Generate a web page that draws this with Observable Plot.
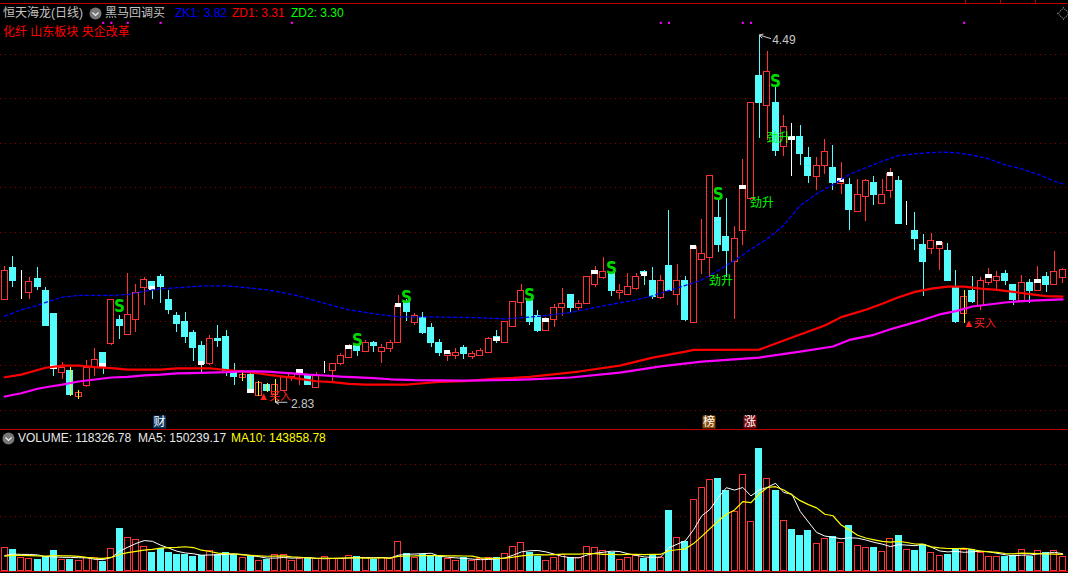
<!DOCTYPE html>
<html><head><meta charset="utf-8">
<script src="https://cdn.jsdelivr.net/npm/d3@7"></script>
<script src="https://cdn.jsdelivr.net/npm/@observablehq/plot@0.6"></script>
<style>
html,body{margin:0;padding:0;background:#000;overflow:hidden}
#wrap{position:relative;width:1068px;height:573px;background:#000;font:12px "Liberation Sans","Noto Sans CJK SC",sans-serif}
#wrap svg{display:block}
.abs{position:absolute;white-space:pre;line-height:14px}
.line{position:absolute;left:0;width:1068px;height:1px;background:#c00000}
</style></head><body><div id="wrap"></div>
<script>
const opens=[3.291,3.439,3.373,3.323,3.385,3.335,3.227,2.961,2.973,2.853,
2.903,2.986,3.055,3.093,3.204,3.133,3.201,3.346,3.374,3.397,
3.294,3.218,3.195,3.145,3.086,3.001,3.114,3.127,2.964,2.942,
2.955,2.860,2.906,2.865,2.883,2.946,2.955,2.955,2.894,2.963,
2.970,3.001,3.032,3.086,3.059,3.096,3.059,3.073,3.100,3.281,
3.190,3.213,3.168,3.096,3.041,3.041,3.077,3.034,3.041,3.052,
3.127,3.100,3.172,3.281,3.287,3.218,3.150,3.200,3.255,3.317,
3.255,3.272,3.362,3.394,3.412,3.322,3.313,3.344,3.417,3.376,
3.303,3.448,3.313,3.376,3.190,3.471,3.484,3.661,3.579,3.462,
3.602,3.747,4.303,4.167,4.181,3.986,4.022,4.031,3.932,3.846,
3.896,3.891,3.816,3.810,3.692,3.756,3.819,3.724,3.783,3.828,
3.646,3.606,3.539,3.525,3.525,3.516,3.353,3.231,3.335,3.267,
3.371,3.380,3.408,3.358,3.290,3.367,3.331,3.398,3.362,3.394];
const closes=[3.424,3.376,3.373,3.374,3.349,3.177,2.986,2.986,2.865,2.873,
2.986,3.022,2.995,3.293,3.177,3.225,3.325,3.383,3.344,3.349,
3.245,3.186,3.127,3.077,3.004,3.114,3.105,2.973,2.946,2.954,
2.880,2.915,2.883,2.906,2.946,2.958,2.969,2.906,2.951,2.963,
3.005,3.037,3.077,3.064,3.096,3.086,3.077,3.096,3.267,3.236,
3.218,3.145,3.096,3.055,3.055,3.055,3.046,3.046,3.064,3.114,
3.114,3.195,3.285,3.335,3.195,3.154,3.200,3.258,3.276,3.258,
3.276,3.398,3.417,3.417,3.335,3.335,3.349,3.398,3.408,3.308,
3.376,3.335,3.376,3.204,3.530,3.498,3.851,3.539,3.516,3.566,
3.801,4.181,4.181,4.321,3.968,4.072,4.022,3.950,3.851,3.900,
3.959,3.819,3.832,3.697,3.769,3.828,3.769,3.769,3.860,3.638,
3.646,3.566,3.466,3.557,3.548,3.376,3.195,3.308,3.285,3.376,
3.398,3.398,3.376,3.294,3.367,3.335,3.376,3.358,3.417,3.426];
const highs=[3.444,3.489,3.426,3.392,3.438,3.349,3.227,3.010,2.987,2.883,
3.019,3.073,3.055,3.293,3.220,3.412,3.362,3.394,3.374,3.407,
3.335,3.236,3.236,3.154,3.105,3.132,3.177,3.154,3.005,2.964,
2.964,2.924,2.915,2.931,2.946,2.966,2.973,2.955,2.964,3.014,
3.005,3.050,3.091,3.086,3.109,3.105,3.091,3.109,3.312,3.294,
3.231,3.236,3.186,3.114,3.059,3.073,3.086,3.059,3.073,3.123,
3.154,3.195,3.285,3.362,3.290,3.245,3.213,3.272,3.344,3.317,
3.290,3.398,3.444,3.484,3.415,3.362,3.412,3.412,3.426,3.439,
3.403,3.697,3.453,3.398,3.539,3.656,3.851,3.742,3.751,3.624,
3.927,4.181,4.490,4.416,4.262,4.126,4.090,4.081,3.982,3.936,
4.018,3.991,3.914,3.842,3.837,3.837,3.851,3.837,3.887,3.851,
3.738,3.688,3.588,3.593,3.557,3.548,3.426,3.335,3.398,3.394,
3.435,3.421,3.426,3.358,3.403,3.385,3.444,3.417,3.511,3.435];
const lows=[3.291,3.350,3.294,3.294,3.335,3.177,2.948,2.933,2.856,2.844,
2.897,2.946,2.955,3.088,3.114,3.133,3.145,3.267,3.294,3.276,
3.227,3.145,3.096,3.014,2.964,2.996,3.077,2.946,2.906,2.924,
2.874,2.856,2.874,2.830,2.883,2.924,2.906,2.906,2.892,2.958,
2.924,2.996,3.032,3.037,3.055,3.055,3.005,3.055,3.096,3.195,
3.177,3.136,3.077,3.037,3.014,3.023,3.023,3.023,3.037,3.050,
3.096,3.096,3.168,3.218,3.177,3.145,3.150,3.168,3.218,3.236,
3.245,3.272,3.349,3.385,3.308,3.294,3.313,3.335,3.358,3.294,
3.294,3.335,3.267,3.195,3.186,3.408,3.395,3.507,3.395,3.204,
3.539,3.742,4.022,4.013,3.941,3.941,3.851,3.900,3.819,3.787,
3.860,3.787,3.769,3.606,3.692,3.647,3.719,3.724,3.751,3.638,
3.629,3.516,3.308,3.498,3.426,3.376,3.186,3.186,3.276,3.245,
3.358,3.340,3.358,3.267,3.290,3.276,3.331,3.326,3.362,3.367];
// volume in thousands
const volumes=[196.2,173.2,109.7,101,95.2,118.3,164.5,92.4,95.2,83.7,
109.7,103.9,77.9,187.6,355,282.8,265.5,204.9,155.8,187.6,
155.8,129.9,129.9,121.2,124.1,167.4,129.9,155.8,135.6,109.7,
112.6,83.7,95.2,135.6,135.6,83.7,101,106.8,98.1,118.3,
98.1,101,127,121.2,109.7,95.2,109.7,101,248.2,144.3,
109.7,129.9,112.6,124.1,98.1,83.7,103.9,83.7,98.1,106.8,
109.7,144.3,204.9,239.5,155.8,121.2,83.7,109.7,135.6,106.8,
109.7,204.9,196.2,170.3,155.8,92.4,109.7,127,101,135.6,
109.7,510.8,282.8,248.2,611.8,715.7,785,787.9,684,507.9,
828.3,421.4,1047.6,793.7,684,430,346.3,303,337.7,230.9,
274.2,291.5,239.5,381,213.6,196.2,190.5,161.6,274.2,294.4,
178.9,164.5,222.2,153,127,138.5,187.6,181.8,173.2,153,
118.3,118.3,121.2,127,178.9,121.2,170.3,147.2,170.3,118.3];
// estimated sessions just before the visible window, feeding the volume averages
const priorVolumes=[118,115,110,127,133,113,121,104,115];
const flatDownDays=[96];
const yellowDays=[8,9,29,30,31,32,33,117];
const flagDays=[12,13,15,19,35,80,81,90,91,117];
const flagPrice=4.545;
const gridLevels=[4.402,4.203,4.000,3.801,3.597,3.398,3.195,2.996,2.793];
const zk1Days=[0,2,4,5,7,9,13,15,17,19,22,24,27,29,32,34,36,38,40,42,45,48,52,57,61,64,65,69,73,77,79,81,83,85,87,89,91,93,95,97,99,101,103,105,107,109,110,112,114,116,118,120,122,124,126,128,129];
const zk1Values=[3.219,3.248,3.267,3.282,3.305,3.313,3.313,3.317,3.332,3.343,3.350,3.356,3.356,3.350,3.338,3.325,3.309,3.287,3.267,3.248,3.230,3.216,3.216,3.213,3.207,3.215,3.218,3.236,3.266,3.293,3.311,3.335,3.358,3.383,3.426,3.471,3.522,3.569,3.630,3.719,3.772,3.814,3.860,3.890,3.920,3.945,3.949,3.956,3.961,3.958,3.947,3.930,3.903,3.885,3.860,3.829,3.817];
const zd1Days=[0,2,4,5,7,9,11,13,15,19,21,25,27,29,31,32,34,36,38,40,42,44,49,51,53,56,58,60,62,64,70,75,79,83,84,92,95,100,102,105,107,109,111,113,115,117,119,121,123,125,127,129];
const zd1Values=[2.943,2.955,2.976,2.986,2.996,2.996,2.989,2.984,2.978,2.978,2.983,2.983,2.976,2.970,2.960,2.955,2.946,2.936,2.925,2.921,2.913,2.910,2.910,2.916,2.922,2.925,2.931,2.937,2.940,2.945,2.969,2.996,3.032,3.059,3.067,3.068,3.109,3.177,3.215,3.248,3.275,3.305,3.329,3.344,3.353,3.353,3.344,3.338,3.329,3.319,3.310,3.308];
const zd2Days=[0,2,4,5,7,9,11,13,15,17,19,21,24,27,29,32,35,37,39,41,43,45,47,50,56,62,64,69,75,80,85,92,97,101,103,106,108,110,112,114,116,118,120,122,124,126,129];
const zd2Values=[2.856,2.871,2.891,2.898,2.910,2.924,2.933,2.942,2.945,2.952,2.955,2.961,2.963,2.966,2.970,2.969,2.961,2.955,2.951,2.946,2.943,2.939,2.934,2.930,2.928,2.931,2.934,2.942,2.964,2.992,3.014,3.032,3.059,3.082,3.112,3.135,3.160,3.181,3.203,3.227,3.242,3.263,3.272,3.281,3.287,3.291,3.295];
const sDays=[14,43,49,64,74,87,94];
const sPrices=[3.263,3.109,3.303,3.312,3.435,3.769,4.280];
const jinDays=[86,91,93];
const jinPrices=[3.376,3.730,4.023];
const buyDays=[31,117];
const buyPrices=[2.856,3.186];
const extremeDays=[92,33];
const extremeValues=[4.49,2.83];
const extremeLabelPrices=[4.467,2.82];
const extremeLabelOffsets=[13,15.5];
const extremeTails=[4.474,2.83];
const badgeDays=[19,86,91];
const badgeText=["财","榜","涨"];
const badgeFills=["#0a3560","#8a4a08","#7a0a10"];
const badgePrice=2.741;
const topTickDays=[117,121.3,125.6];

const RED="#ff3333",CYAN="#54fcfc",FONT='"Liberation Sans","Noto Sans CJK SC",sans-serif';
const HALF=0.366;
const days=opens.map((o,i)=>({i,o,c:closes[i],h:highs[i],l:lows[i],
  color:closes[i]>o?RED:closes[i]<o?CYAN:"#ffffff",
  volColor:(closes[i]>=o&&!flatDownDays.includes(i))?RED:CYAN}));
const vols=[...priorVolumes.map((v,k)=>({i:k-priorVolumes.length,v})),...volumes.map((v,i)=>({i,v}))];
const seen=volumes.map((v,i)=>({i,v,color:days[i].volColor}));
const pairs=(xs,ys)=>xs.map((x,k)=>({x,y:ys[k]}));
const xDomain=[-0.524,129.72];
const rect=(get)=>({x1:d=>d.i-HALF,x2:d=>d.i+HALF,shapeRendering:"crispEdges",strokeWidth:1,...get});

const chart=Plot.plot({
  width:1068,height:429,margin:0,marginTop:0,marginBottom:0,marginLeft:0,marginRight:0,
  style:{background:"#000",fontFamily:FONT,overflow:"visible"},
  x:{domain:xDomain,range:[0,1068],axis:null},
  y:{domain:[2.707,4.646],range:[429,0],axis:null},
  color:{type:"identity"},
  marks:[
    Plot.ruleY(gridLevels,{stroke:"#900000",strokeWidth:1,strokeDasharray:"1 4",shapeRendering:"crispEdges"}),
    Plot.ruleX(days,{x:"i",y1:"l",y2:"h",stroke:"color",strokeWidth:1,shapeRendering:"crispEdges"}),
    Plot.rect(days,rect({y1:"o",y2:"c",stroke:"color",fill:d=>d.color===CYAN?CYAN:"#000"})),
    Plot.ruleX(days.filter(d=>yellowDays.includes(d.i)),{x:"i",y1:"l",y2:"h",stroke:"#ffff00",strokeWidth:1,shapeRendering:"crispEdges"}),
    Plot.rect(days.filter(d=>d.i>0&&d.i%6===0),{x1:d=>d.i-0.4,x2:d=>d.i+0.4,y1:d=>d.c-0.009,y2:d=>d.c+0.009,fill:"#fff",shapeRendering:"crispEdges"}),
    Plot.dot(flagDays,{x:d=>d,y:()=>flagPrice,symbol:"square",r:1.2,fill:"#ff00ff"}),
    Plot.line(pairs(zd1Days,zd1Values),{x:"x",y:"y",stroke:"#ff0000",strokeWidth:2.2}),
    Plot.line(pairs(zd2Days,zd2Values),{x:"x",y:"y",stroke:"#ff00ff",strokeWidth:2.2}),
    Plot.line(pairs(zk1Days,zk1Values),{x:"x",y:"y",stroke:"#0000ff",strokeWidth:1.3,strokeDasharray:"3 3"}),
    Plot.text(pairs(sDays,sPrices),{x:"x",y:"y",text:()=>"S",fill:"#00d800",fontSize:17,fontWeight:"bold",fontFamily:'"DejaVu Sans Condensed","Liberation Sans Narrow","DejaVu Sans"'}),
    Plot.text(pairs(jinDays,jinPrices),{x:"x",y:"y",text:()=>"劲升",fill:"#00ff00",fontSize:12,textAnchor:"start",dx:-1,fontFamily:FONT}),
    Plot.text(pairs(buyDays,buyPrices),{x:"x",y:"y",text:()=>"▲买入",fill:"#ff2020",fontSize:11,textAnchor:"start",dx:-1,fontFamily:FONT}),
    Plot.arrow(extremeDays.map((d,k)=>({i:d,p:extremeValues[k],t:extremeTails[k]})),{x1:d=>d.i+1.4,y1:"t",x2:"i",y2:"p",stroke:"#c8c8c8",strokeWidth:1,headLength:7}),
    Plot.text([0],{x:()=>extremeDays[0],y:()=>extremeLabelPrices[0],text:()=>extremeValues[0].toFixed(2),fill:"#c8c8c8",fontSize:12,textAnchor:"start",dx:extremeLabelOffsets[0],fontFamily:FONT}),
    Plot.text([1],{x:()=>extremeDays[1],y:()=>extremeLabelPrices[1],text:()=>extremeValues[1].toFixed(2),fill:"#c8c8c8",fontSize:12,textAnchor:"start",dx:extremeLabelOffsets[1],fontFamily:FONT}),
    Plot.dot(badgeDays,{x:d=>d,y:()=>badgePrice,symbol:"square",r:7.3,fill:(d,k)=>badgeFills[k],dx:-1}),
    Plot.text(badgeDays,{x:d=>d,y:()=>badgePrice,text:(d,k)=>badgeText[k],fill:"#fff",fontSize:12,dx:-1,fontFamily:FONT})
  ]
});

const volumePanel=Plot.plot({
  width:1068,height:140,margin:0,marginTop:0,marginBottom:0,marginLeft:0,marginRight:0,
  style:{background:"#000",fontFamily:FONT,overflow:"visible"},
  x:{domain:xDomain,range:[0,1068],axis:null},
  y:{domain:[0,1212],range:[140,0],axis:null},
  color:{type:"identity"},
  marks:[
    Plot.ruleY([920,467],{stroke:"#900000",strokeWidth:1,strokeDasharray:"1 4",shapeRendering:"crispEdges"}),
    Plot.rect(seen,rect({y1:0,y2:"v",stroke:"color",fill:d=>d.color===CYAN?CYAN:"#000"})),
    Plot.lineY(vols,Plot.filter(d=>d.i>=0,Plot.windowY({k:5,anchor:"end"},{x:"i",y:"v",stroke:"#ffffff",strokeWidth:1}))),
    Plot.lineY(vols,Plot.filter(d=>d.i>=0,Plot.windowY({k:10,anchor:"end"},{x:"i",y:"v",stroke:"#ffff00",strokeWidth:1.2})))
  ]
});

const wrap=document.getElementById("wrap");
chart.style.position="absolute";chart.style.left="0";chart.style.top="0";
volumePanel.style.position="absolute";volumePanel.style.left="0";volumePanel.style.top="430px";
wrap.append(chart,volumePanel);

function label(text,left,top,color){
  const e=document.createElement("div");e.className="abs";e.textContent=text;
  e.style.left=left+"px";e.style.top=top+"px";e.style.color=color;wrap.append(e);
}
function hline(top){const e=document.createElement("div");e.className="line";e.style.top=top+"px";wrap.append(e);}
function icon(left,top){
  const e=document.createElement("div");e.className="abs";e.style.left=left+"px";e.style.top=top+"px";
  e.innerHTML='<svg width="13" height="13"><circle cx="6.5" cy="6.5" r="6" fill="#777"/><path d="M3.5 5.5 L6.5 8.5 L9.5 5.5" fill="none" stroke="#eee" stroke-width="1.2"/></svg>';
  wrap.append(e);
}
hline(3);hline(429);hline(571);
topTickDays.forEach((_,k)=>{const e=document.createElement("div");e.style.cssText=`position:absolute;top:0;left:${965+35*k}px;width:1px;height:3px;background:#c00000`;wrap.append(e);});
label("恒天海龙(日线)",3,6,"#c4c4c4");icon(88.5,6.5);label("黑马回调买",105,6,"#c4c4c4");
label("ZK1: 3.82",175,6,"#0000ff");label("ZD1: 3.31",232,6,"#ff0000");label("ZD2: 3.30",291,6,"#00ff00");
label("化纤 山东板块 央企改革",3,25,"#ff0000");
icon(2,431.5);label("VOLUME: 118326.78",18,431,"#e8e8e8");label("MA5: 150239.17",138,431,"#e8e8e8");label("MA10: 143858.78",231,431,"#ffff00");
const dia=document.createElement("div");
dia.style.cssText="position:absolute;left:1059px;top:9px;width:7px;height:7px;border:1px dotted #999;transform:rotate(45deg)";wrap.append(dia);
</script></body></html>
